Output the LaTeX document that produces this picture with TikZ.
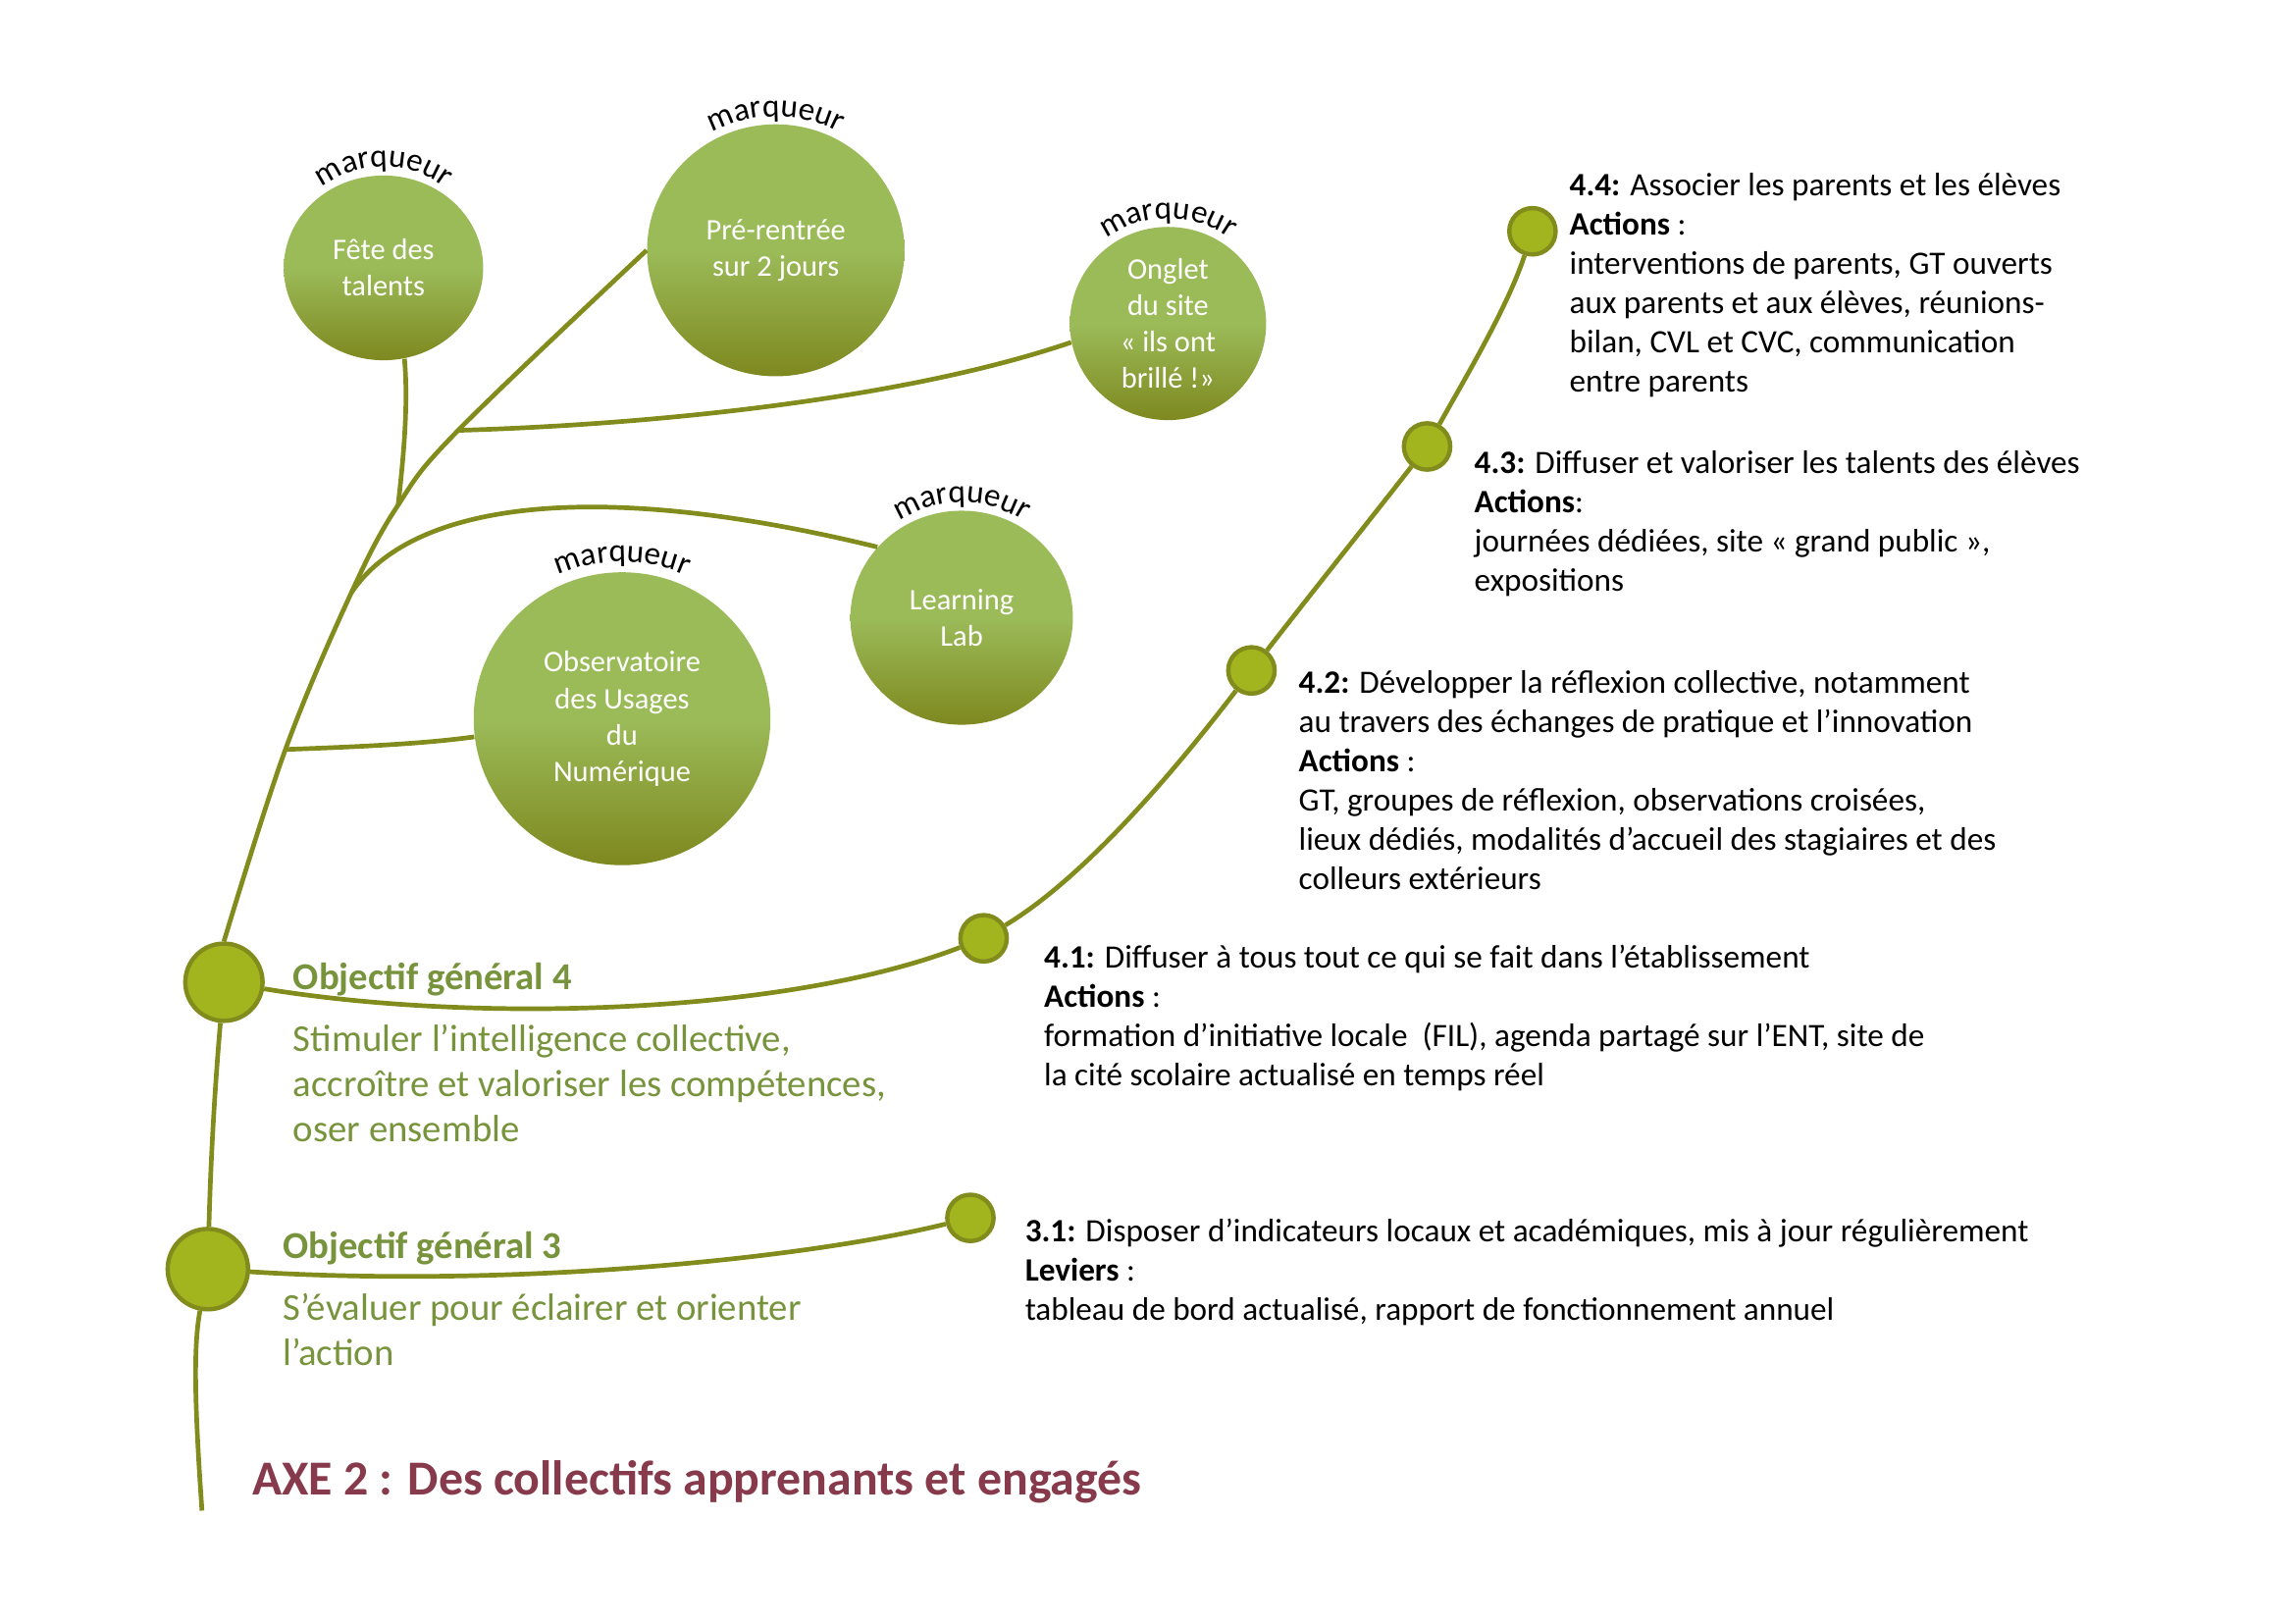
\documentclass[tikz,border=0pt]{standalone}
\usepackage{fontspec}
\setmainfont{Carlito}
\usepackage{xcolor}
\usepackage{tikz}
\usetikzlibrary{shapes.geometric,decorations.text}
\definecolor{bultop}{HTML}{9BBB59}
\definecolor{bulbas}{HTML}{7E881F}
\definecolor{tige}{HTML}{828C1C}
\definecolor{knotf}{HTML}{A2B51F}
\definecolor{vert}{HTML}{77933C}
\definecolor{axe}{HTML}{873A4B}
\tikzset{
  bul/.style ={ellipse, inner sep=0pt, align=center, text=white,
               top color=bultop, bottom color=bulbas, middle color=bultop,
               font=\fontsize{11}{13.4}\selectfont},
  knot/.style={circle, draw=tige, line width=1.6pt, fill=knotf, inner sep=0pt, minimum size=10mm},
  sknot/.style={knot, minimum size=6mm},
  brin/.style={draw=tige, line width=1.7pt},
  txt/.style ={anchor=base west, align=left, inner sep=0pt, font=\fontsize{12}{14.5}\selectfont},
  vtit/.style={txt, text=vert, font=\fontsize{14}{17}\selectfont\bfseries},
  vdesc/.style={txt, text=vert, font=\fontsize{14}{16.6}\selectfont},
  marq/.style={decorate, decoration={text along path, text align=center,
               text={|\fontsize{12}{14}\selectfont|marqueur}}},
}

\begin{document}
\begin{tikzpicture}[x=0.1894mm,y=-0.1894mm]
\useasboundingbox (0,0) rectangle (1568,1109);
% bulles
\node[bul, minimum width=25.8mm, minimum height=23.9mm] (fete) at (262,183) {Fête des\\talents};
\node[bul, minimum width=33.3mm, minimum height=32.6mm] (pre) at (530,171) {Pré-rentrée\\sur 2 jours};
\node[bul, minimum width=25.4mm, minimum height=25mm] (ong) at (798,221) {Onglet\\du site\\« ils ont\\brillé !»};
\node[bul, minimum width=28.8mm, minimum height=27.7mm] (lab) at (657,422) {Learning\\Lab};
\node[bul, minimum width=38.4mm, minimum height=37.9mm] (obs) at (425,491) {Observatoire\\des Usages\\du\\Numérique};
\path[marq] ([shift={(135:13.1mm)}]fete.center) arc[start angle=135, end angle=45, radius=13.1mm];
\path[marq] ([shift={(125:17.3mm)}]pre.center) arc[start angle=125, end angle=55, radius=17.3mm];
\path[marq] ([shift={(135:13.6mm)}]ong.center) arc[start angle=135, end angle=45, radius=13.6mm];
\path[marq] ([shift={(130:14.9mm)}]lab.center) arc[start angle=130, end angle=50, radius=14.9mm];
\path[marq] ([shift={(120:20.3mm)}]obs.center) arc[start angle=120, end angle=60, radius=20.3mm];
% noeuds
\node[knot] (obj4) at (153,671) {};
\node[knot, minimum size=10.4mm] (obj3) at (142,867) {};
\node[sknot] (k41) at (672,641) {};
\node[sknot] (k42) at (855,458) {};
\node[sknot] (k43) at (975,305) {};
\node[sknot] (k44) at (1047,158) {};
\node[sknot] (k31) at (663,832) {};
% tronc
\coordinate (pied) at (138,1032);
\coordinate (jobs) at (195,512);
\coordinate (jlab) at (240,405);
\coordinate (jfete) at (272,345);
\coordinate (jong) at (313,294);
\draw[brin] (pied) .. controls (133,960) and (132,920) .. (obj3);
\draw[brin] (obj3) .. controls (144,790) and (147,740) .. (obj4);
\draw[brin] plot[smooth, tension=0.6] coordinates {(obj4.north) (jobs) (jlab) (jfete) (jong) (pre.west)};
% branches
\draw[brin] (fete.-77) .. controls (279,275) and (276,310) .. (jfete);
\draw[brin] (jong) .. controls (450,290) and (620,272) .. (ong.191);
\draw[brin] (jlab) .. controls (280,345) and (400,325) .. (lab.140);
\draw[brin] (jobs) .. controls (250,510) and (290,508) .. (obs.187);
\draw[brin] (obj4) .. controls (330,700) and (540,692) .. (k41);
\draw[brin] (k41) .. controls (740,600) and (800,530) .. (k42);
\draw[brin] (k42) .. controls (900,400) and (940,350) .. (k43);
\draw[brin] (k43) .. controls (1000,260) and (1030,210) .. (k44);
\draw[brin] (obj3) .. controls (350,880) and (550,860) .. (k31);
% textes (placed at the baseline of their last line)
\node[txt] (t44) at (1072,268) {\textbf{4.4:} Associer les parents et les élèves\\\textbf{Actions} :\\interventions de parents, GT ouverts\\aux parents et aux élèves, réunions-\\bilan, CVL et CVC, communication\\entre parents};
\node[txt] (t43) at (1007,404) {\textbf{4.3:} Diffuser et valoriser les talents des élèves\\\textbf{Actions}:\\journées dédiées, site « grand public »,\\expositions};
\node[txt] (t42) at (887,608) {\textbf{4.2:} Développer la réflexion collective, notamment\\au travers des échanges de pratique et l’innovation\\\textbf{Actions} :\\GT, groupes de réflexion, observations croisées,\\lieux dédiés, modalités d’accueil des stagiaires et des\\colleurs extérieurs};
\node[txt] (t41) at (713,742) {\textbf{4.1:} Diffuser à tous tout ce qui se fait dans l’établissement\\\textbf{Actions} :\\formation d’initiative locale\ \ (FIL), agenda partagé sur l’ENT, site de\\la cité scolaire actualisé en temps réel};
\node[txt] (t31) at (700,902) {\textbf{3.1:} Disposer d’indicateurs locaux et académiques, mis à jour régulièrement\\\textbf{Leviers} :\\tableau de bord actualisé, rapport de fonctionnement annuel};
\node[vtit] (o4) at (200,676) {Objectif général 4};
\node[vdesc] (d4) at (200,780) {Stimuler l’intelligence collective,\\accroître et valoriser les compétences,\\oser ensemble};
\node[vtit] (o3) at (193,860) {Objectif général 3};
\node[vdesc] (d3) at (193,933) {S’évaluer pour éclairer et orienter\\l’action};
\node[txt, text=axe, font=\fontsize{18}{21}\selectfont\bfseries] (axe) at (172,1021) {AXE 2 : Des collectifs apprenants et engagés};
\end{tikzpicture}
\end{document}
